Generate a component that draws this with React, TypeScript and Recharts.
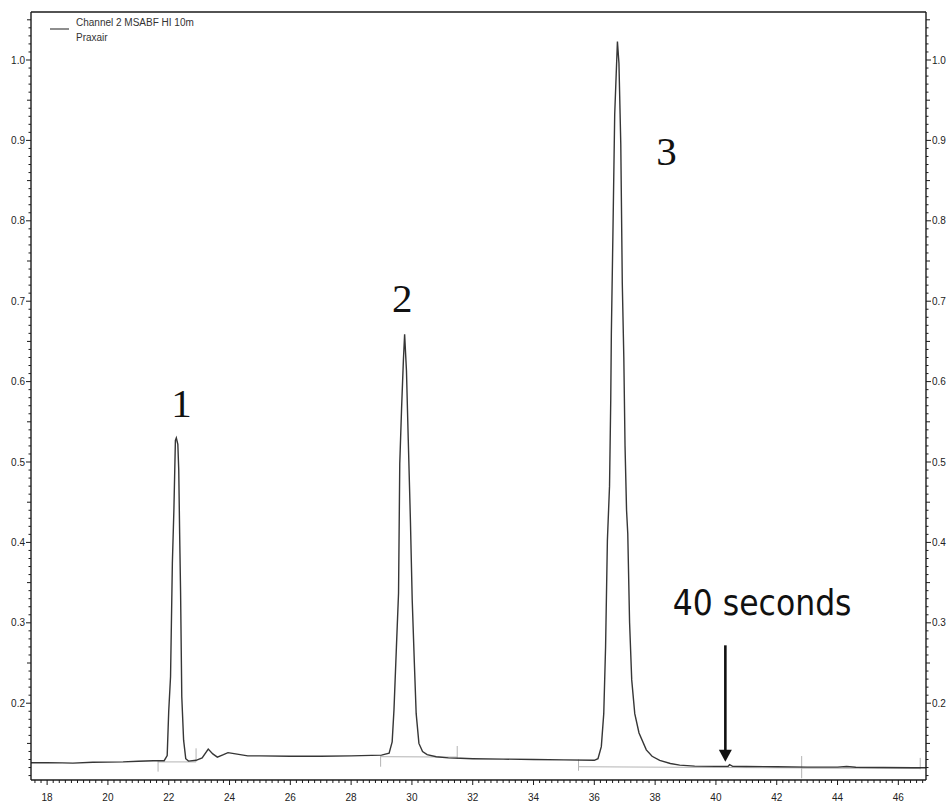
import React from 'react';
import { LineChart, Line, XAxis, YAxis, ReferenceLine, ReferenceDot } from 'recharts';

// ---- data ----
const times = [
  17.47, 18.0, 18.5, 18.85, 19.5, 20.5, 21.0, 21.5, 21.85, 21.95,
  22.0, 22.06, 22.12, 22.17, 22.22, 22.25, 22.3, 22.33, 22.36, 22.39,
  22.43, 22.49, 22.56, 22.65, 22.9, 23.1, 23.3, 23.45, 23.6, 23.8,
  23.95, 24.2, 24.6, 25.0, 26.0, 27.0, 28.0, 29.0, 29.25, 29.35,
  29.41, 29.49, 29.56, 29.6, 29.66, 29.72, 29.76, 29.82, 29.88, 29.95,
  30.01, 30.08, 30.14, 30.23, 30.35, 30.5, 30.8, 31.2, 31.6, 32.0,
  33.0, 34.0, 35.0, 36.0, 36.12, 36.23, 36.31, 36.37, 36.43, 36.5,
  36.54, 36.56, 36.61, 36.67, 36.72, 36.76, 36.81, 36.87, 36.92, 36.97,
  37.01, 37.06, 37.1, 37.16, 37.23, 37.33, 37.47, 37.71, 37.9, 38.15,
  38.5, 38.81, 39.3, 40.0, 40.4, 40.45, 40.55, 41.0, 42.0, 43.0,
  44.0, 44.3, 44.6, 45.5, 46.5, 46.91,
];
const signal = [
  0.126, 0.126, 0.1258, 0.1255, 0.1265, 0.127, 0.1278, 0.1285, 0.1285, 0.135,
  0.19, 0.233, 0.374, 0.44, 0.527, 0.53, 0.522, 0.49, 0.41, 0.339,
  0.208, 0.154, 0.131, 0.128, 0.129, 0.132, 0.143, 0.137, 0.133, 0.136,
  0.1385, 0.137, 0.1345, 0.1345, 0.134, 0.134, 0.1345, 0.1355, 0.138, 0.152,
  0.192, 0.27, 0.337, 0.498, 0.567, 0.627, 0.659, 0.614, 0.527, 0.428,
  0.328, 0.25, 0.187, 0.15, 0.14, 0.136, 0.1335, 0.132, 0.1315, 0.131,
  0.1305, 0.13, 0.1295, 0.129, 0.131, 0.146, 0.187, 0.27, 0.403, 0.47,
  0.577, 0.66, 0.78, 0.932, 0.983, 1.023, 0.996, 0.896, 0.722, 0.63,
  0.52, 0.44, 0.411, 0.3, 0.229, 0.187, 0.163, 0.142, 0.134, 0.129,
  0.125, 0.123, 0.1218, 0.1215, 0.1215, 0.1235, 0.1215, 0.1212, 0.121, 0.1205,
  0.1205, 0.1212, 0.1203, 0.12, 0.1198, 0.1198,
];

const xDomain = [17.47, 46.91];
const yDomain = [0.1045, 1.0597];
const xMajorTicks = [18, 20, 22, 24, 26, 28, 30, 32, 34, 36, 38, 40, 42, 44, 46];
const yMajorTicks = [0.2, 0.3, 0.4, 0.5, 0.6, 0.7, 0.8, 0.9, 1.0];
const xAllTicks = Array.from({ length: 147 }, (_, i) => Math.round((17.6 + 0.2 * i) * 10) / 10);
const yAllTicks = Array.from({ length: 95 }, (_, i) => Math.round((0.11 + 0.01 * i) * 100) / 100);

const legendName = 'Channel 2 MSABF HI 10m';
const legendSub = 'Praxair';

const peakLabels = ['1', '2', '3'];
const peakLabelTimes = [22.42, 29.684, 38.37];
const peakLabelValues = [0.556, 0.687, 0.869];

const noteText = '40 seconds';
const noteTime = 38.58;
const noteValue = 0.31;
const arrowTime = 40.31;
const arrowTopValue = 0.272;
const arrowTipValue = 0.1273;

// integration baseline (grey) segments
const baseStartT = [21.65, 28.97, 35.48, 42.82];
const baseEndT = [22.9, 31.49, 42.82, 46.72];
const baseStartV = [0.127, 0.1335, 0.121, 0.1192];
const baseEndV = [0.127, 0.133, 0.1195, 0.119];
// integration markers (grey vertical ticks)
const markT = [21.65, 22.9, 28.97, 31.49, 35.48, 42.82, 46.72];
const markLow = [0.1149, 0.1273, 0.121, 0.1306, 0.116, 0.1066, 0.1178];
const markHigh = [0.1294, 0.1439, 0.1356, 0.1468, 0.13, 0.1343, 0.132];

const chartData = times.map((t, i) => ({ t, v: signal[i] }));

const tickFont = "'Liberation Sans', Arial, sans-serif";
const axisColor = '#1a1a1a';

const isMajor = (list: number[], v: number) => list.some((m) => Math.abs(m - v) < 1e-6);

const XTick = (props: any) => {
  const { x, y, payload } = props;
  const val = payload.value;
  const major = isMajor(xMajorTicks, val);
  return (
    <g>
      <line x1={x} x2={x} y1={y} y2={y + (major ? 5 : 3)} stroke={axisColor} strokeWidth={1} />
      {major && (
        <text x={x} y={y + 21} textAnchor="middle" fontFamily={tickFont} fontSize={10} fill="#222">
          {String(val)}
        </text>
      )}
    </g>
  );
};

const yTickLen = (val: number, major: boolean) => {
  if (major) return 5;
  const hund = Math.round(val * 100);
  return hund % 5 === 0 ? 4 : 2.5;
};

const YTickLeft = (props: any) => {
  const { x, y, payload } = props;
  const val = payload.value;
  const major = isMajor(yMajorTicks, val);
  const len = yTickLen(val, major);
  return (
    <g>
      <line x1={x - len} x2={x} y1={y} y2={y} stroke={axisColor} strokeWidth={1} />
      {major && (
        <text x={x - 6} y={y} dy="0.36em" textAnchor="end" fontFamily={tickFont} fontSize={10} fill="#222">
          {val.toFixed(1)}
        </text>
      )}
    </g>
  );
};

const YTickRight = (props: any) => {
  const { x, y, payload } = props;
  const val = payload.value;
  const major = isMajor(yMajorTicks, val);
  const len = yTickLen(val, major);
  return (
    <g>
      <line x1={x} x2={x + len} y1={y} y2={y} stroke={axisColor} strokeWidth={1} />
      {major && (
        <text x={x + 6} y={y} dy="0.36em" textAnchor="start" fontFamily={tickFont} fontSize={10} fill="#222">
          {val.toFixed(1)}
        </text>
      )}
    </g>
  );
};

export default function App() {
  return (
    <div style={{ position: 'absolute', left: 0, top: 0, width: 948, height: 803, background: '#fff' }}>
      <LineChart
        width={948}
        height={803}
        data={chartData}
        margin={{ top: 12, right: 0, bottom: 0, left: 0 }}
      >
        <XAxis
          dataKey="t"
          type="number"
          domain={xDomain}
          allowDataOverflow
          ticks={xAllTicks}
          interval={0}
          height={23}
          tickSize={0}
          tickMargin={0}
          tickLine={false}
          tick={<XTick />}
          axisLine={{ stroke: axisColor, strokeWidth: 1.4 }}
        />
        <YAxis
          yAxisId="left"
          orientation="left"
          type="number"
          domain={yDomain}
          allowDataOverflow
          ticks={yAllTicks}
          interval={0}
          width={31}
          tickSize={0}
          tickMargin={0}
          tickLine={false}
          tick={<YTickLeft />}
          axisLine={{ stroke: axisColor, strokeWidth: 1.4 }}
        />
        <YAxis
          yAxisId="right"
          orientation="right"
          type="number"
          domain={yDomain}
          allowDataOverflow
          ticks={yAllTicks}
          interval={0}
          width={22}
          tickSize={0}
          tickMargin={0}
          tickLine={false}
          tick={<YTickRight />}
          axisLine={{ stroke: axisColor, strokeWidth: 1.4 }}
        />
        <ReferenceLine yAxisId="left" y={yDomain[1]} stroke={axisColor} strokeWidth={1.4} />

        {baseStartT.map((t, i) => (
          <ReferenceLine
            key={'b' + i}
            yAxisId="left"
            segment={[
              { x: t, y: baseStartV[i] },
              { x: baseEndT[i], y: baseEndV[i] },
            ]}
            stroke="#b4b4b4"
            strokeWidth={1}
          />
        ))}
        {markT.map((t, i) => (
          <ReferenceLine
            key={'m' + i}
            yAxisId="left"
            segment={[
              { x: t, y: markLow[i] },
              { x: t, y: markHigh[i] },
            ]}
            stroke="#b4b4b4"
            strokeWidth={1}
          />
        ))}

        <Line
          yAxisId="left"
          dataKey="v"
          type="linear"
          stroke="#363636"
          strokeWidth={1.4}
          dot={false}
          isAnimationActive={false}
        />

        {peakLabels.map((lab, i) => (
          <ReferenceDot
            key={'p' + i}
            yAxisId="left"
            x={peakLabelTimes[i]}
            y={peakLabelValues[i]}
            r={0}
            shape={(p: any) => (
              <text
                x={p.cx}
                y={p.cy}
                textAnchor="middle"
                fontFamily="'Liberation Serif', 'Times New Roman', serif"
                fontSize={41}
                fill="#111"
              >
                {lab}
              </text>
            )}
          />
        ))}
        <ReferenceDot
          yAxisId="left"
          x={noteTime}
          y={noteValue}
          r={0}
          shape={(p: any) => (
            <text
              x={p.cx}
              y={p.cy}
              textAnchor="start"
              fontFamily="'DejaVu Sans Condensed', 'DejaVu Sans', Verdana, sans-serif"
              fontSize={35}
              fill="#111"
            >
              {noteText}
            </text>
          )}
        />
        <ReferenceLine
          yAxisId="left"
          segment={[
            { x: arrowTime, y: arrowTopValue },
            { x: arrowTime, y: arrowTipValue + 0.012 },
          ]}
          stroke="#111"
          strokeWidth={2.6}
        />
        <ReferenceDot
          yAxisId="left"
          x={arrowTime}
          y={arrowTipValue}
          r={0}
          shape={(p: any) => (
            <polygon
              points={`${p.cx},${p.cy} ${p.cx - 6.5},${p.cy - 12} ${p.cx + 6.5},${p.cy - 12}`}
              fill="#111"
            />
          )}
        />
      </LineChart>
      <svg
        width={260}
        height={50}
        style={{ position: 'absolute', left: 0, top: 0, pointerEvents: 'none' }}
      >
        <line x1={50} x2={69} y1={29} y2={29} stroke="#444" strokeWidth={1.2} />
        <text x={76} y={25.5} fontFamily={tickFont} fontSize={10} fill="#333">
          {legendName}
        </text>
        <text x={76} y={41} fontFamily={tickFont} fontSize={10} fill="#333">
          {legendSub}
        </text>
      </svg>
    </div>
  );
}
